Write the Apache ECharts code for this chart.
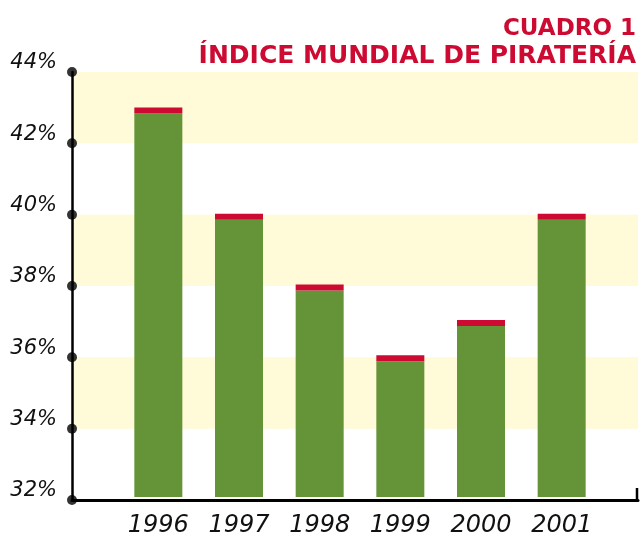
<!DOCTYPE html>
<html><head><meta charset="utf-8">
<script src="https://cdn.jsdelivr.net/npm/echarts@6/dist/echarts.min.js"></script>
<style>html,body{margin:0;padding:0;background:#fff}#c{width:640px;height:538px}</style>
</head><body><div id="c"></div>
<script>
const years = ['1996', '1997', '1998', '1999', '2000', '2001'];
const piracy = [43, 40, 38, 36, 37, 40];
const yTicks = [32, 34, 36, 38, 40, 42, 44];
const capSize = 0.17;
const titleLines = ['CUADRO 1', 'ÍNDICE MUNDIAL DE PIRATERÍA'];

const GREEN = '#649338', RED = '#cc0a32', BAND = '#fffad7';
const chart = echarts.init(document.getElementById('c'), null, {renderer: 'canvas'});
const option = {
  backgroundColor: '#fff',
  animation: false,
  grid: [
    {left: 72, right: 2, top: 72, bottom: 38},
    {left: 118, right: 38, top: 72, bottom: 38}
  ],
  xAxis: [
    {gridIndex: 0, type: 'value', min: 0, max: 1,
     axisLine: {show: true, onZero: false, lineStyle: {color: '#000', width: 3}},
     axisTick: {show: false}, axisLabel: {show: false}, splitLine: {show: false}},
    {gridIndex: 1, type: 'category', data: years,
     axisLine: {show: false}, axisTick: {show: false},
     axisLabel: {margin: 17, color: '#111', fontFamily: 'DejaVu Sans', fontStyle: 'italic', fontSize: 24}}
  ],
  yAxis: [
    {gridIndex: 0, type: 'value', min: 32, max: 44, interval: 2,
     axisLine: {show: true, onZero: false, lineStyle: {color: '#000', width: 2.5}},
     axisTick: {show: false}, splitLine: {show: false},
     splitArea: {show: true, areaStyle: {color: ['rgba(0,0,0,0)', BAND]}},
     axisLabel: {formatter: '{value}%', margin: 15, color: '#111', fontFamily: 'DejaVu Sans',
                 fontStyle: 'italic', fontSize: 21, verticalAlign: 'bottom', lineHeight: 18}},
    {gridIndex: 1, type: 'value', min: 32, max: 44, show: false, splitLine: {show: false}}
  ],
  series: [
    {type: 'bar', xAxisIndex: 1, yAxisIndex: 1, stack: 'v', barWidth: 48,
     itemStyle: {color: GREEN}, data: piracy.map(v => +(v - capSize).toFixed(3))},
    {type: 'bar', xAxisIndex: 1, yAxisIndex: 1, stack: 'v', barWidth: 48,
     itemStyle: {color: RED}, data: piracy.map(() => capSize)},
    {type: 'scatter', xAxisIndex: 0, yAxisIndex: 0, symbol: 'circle', symbolSize: 10, clip: false,
     itemStyle: {color: '#000'}, z: 5, data: yTicks.map(t => [0, t])}
  ]
};
chart.setOption(option);
const end = chart.convertToPixel({gridIndex: 0}, [1, 32]);
chart.setOption({
  graphic: [
    {type: 'text', style: {text: titleLines[0], x: 636, y: 29, textAlign: 'right', textVerticalAlign: 'middle', verticalAlign: 'middle',
      fill: RED, font: 'bold 23px "DejaVu Sans"'}},
    {type: 'text', style: {text: titleLines[1], x: 636, y: 56, textAlign: 'right', textVerticalAlign: 'middle', verticalAlign: 'middle',
      fill: RED, font: 'bold 25px "DejaVu Sans"'}},
    {type: 'line', shape: {x1: end[0] - 1, y1: end[1] + 1, x2: end[0] - 1, y2: end[1] - 12},
     style: {stroke: '#000', lineWidth: 2.5}}
  ]
});
</script></body></html>
